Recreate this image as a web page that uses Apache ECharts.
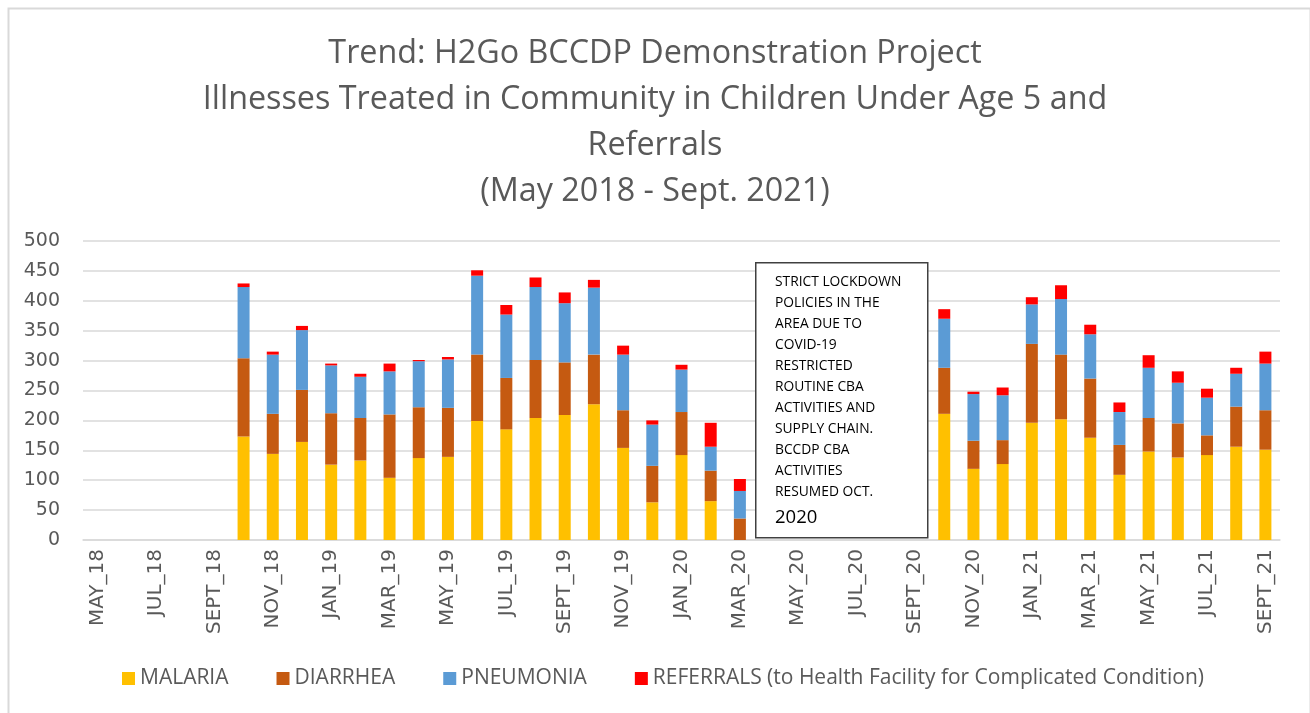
<!DOCTYPE html>
<html>
<head>
<meta charset="utf-8">
<title>H2Go BCCDP Trend</title>
<script src="https://cdn.jsdelivr.net/npm/echarts@6/dist/echarts.min.js"></script>
<style>
    html, body { margin: 0; padding: 0; background: #fff; }
    #chart { width: 1310px; height: 713px; }
</style>
</head>
<body>
<div id="chart"></div>
<script>
// 月份 (MAY_18 .. SEPT_21)
var months = [
    'MAY_18', 'JUN_18', 'JUL_18', 'AUG_18', 'SEPT_18', 'OCT_18', 'NOV_18', 'DEC_18',
    'JAN_19', 'FEB_19', 'MAR_19', 'APR_19', 'MAY_19', 'JUN_19', 'JUL_19', 'AUG_19', 'SEPT_19', 'OCT_19', 'NOV_19', 'DEC_19',
    'JAN_20', 'FEB_20', 'MAR_20', 'APR_20', 'MAY_20', 'JUN_20', 'JUL_20', 'AUG_20', 'SEPT_20', 'OCT_20', 'NOV_20', 'DEC_20',
    'JAN_21', 'FEB_21', 'MAR_21', 'APR_21', 'MAY_21', 'JUN_21', 'JUL_21', 'AUG_21', 'SEPT_21'
];
var malaria = [
    null, null, null, null, null, 173, 144, 164,
    126, 133, 104, 137, 139, 199, 185, 204, 209, 227, 154, 63,
    142, 65, 0, null, null, null, null, null, null, 211, 119, 127,
    196, 202, 171, 109, 148, 138, 142, 156, 151
];
var diarrhea = [
    null, null, null, null, null, 131, 67, 87,
    86, 71, 106, 85, 82, 111, 86, 97, 88, 83, 63, 61,
    72, 51, 36, null, null, null, null, null, null, 77, 47, 40,
    132, 108, 99, 50, 56, 57, 33, 67, 66
];
var pneumonia = [
    null, null, null, null, null, 119, 99, 100,
    80, 69, 72, 77, 81, 132, 106, 122, 99, 112, 93, 69,
    71, 40, 46, null, null, null, null, null, null, 82, 78, 75,
    66, 93, 74, 55, 84, 68, 63, 55, 78
];
var referrals = [
    null, null, null, null, null, 6, 5, 7,
    3, 5, 13, 2, 4, 9, 16, 16, 18, 13, 15, 7,
    8, 40, 20, null, null, null, null, null, null, 16, 4, 13,
    12, 23, 16, 16, 21, 19, 15, 10, 20
];
var seriesNames = ['MALARIA', 'DIARRHEA', 'PNEUMONIA', 'REFERRALS (to Health Facility for Complicated Condition)'];
var seriesColors = ['#FFC000', '#C55A11', '#5B9BD5', '#FF0000'];
var titleLines = [
    'Trend: H2Go BCCDP Demonstration Project',
    'Illnesses Treated in Community in Children Under Age 5 and',
    'Referrals',
    '(May 2018 - Sept. 2021)'
];
var noteLines = [
    'STRICT LOCKDOWN', 'POLICIES IN THE', 'AREA DUE TO', 'COVID-19', 'RESTRICTED',
    'ROUTINE CBA', 'ACTIVITIES AND', 'SUPPLY CHAIN.', 'BCCDP CBA', 'ACTIVITIES', 'RESUMED OCT.'
];
var noteLast = '2020';

var font = '"Open Sans", "Noto Sans", sans-serif';
var axisFont = '"DejaVu Sans", sans-serif';
var grey = '#595959';

let chart = echarts.init(document.getElementById('chart'));

function makeBar(i, data) {
    return {
        name: seriesNames[i],
        type: 'bar',
        stack: 'total',
        barWidth: 12,
        data: data,
        itemStyle: { color: seriesColors[i] }
    };
}

let option = {
    animation: false,
    textStyle: { fontFamily: font },
    title: {
        text: titleLines.join('\n'),
        left: 'center',
        top: 26,
        textStyle: {
            fontFamily: font,
            fontSize: 32.3,
            fontWeight: 'normal',
            color: grey,
            lineHeight: 46
        }
    },
    legend: {
        left: 117,
        top: 663,
        itemWidth: 13,
        itemHeight: 13,
        itemGap: 48,
        icon: 'rect',
        textStyle: { fontFamily: font, fontSize: 21, color: grey },
        data: seriesNames
    },
    grid: {
        left: 83,
        right: 30,
        top: 241,
        bottom: 173
    },
    xAxis: {
        type: 'category',
        data: months,
        axisLine: { lineStyle: { color: '#d9d9d9', width: 1.5 } },
        axisTick: { show: false },
        axisLabel: {
            interval: 1,
            rotate: 90,
            margin: 9,
            fontFamily: axisFont,
            fontSize: 20,
            color: grey
        }
    },
    yAxis: {
        type: 'value',
        min: 0,
        max: 500,
        interval: 50,
        axisLine: { show: false },
        axisTick: { show: false },
        splitLine: { lineStyle: { color: '#d9d9d9', width: 1.5 } },
        axisLabel: {
            margin: 23,
            fontFamily: axisFont,
            fontSize: 19,
            color: grey
        }
    },
    series: [
        makeBar(0, malaria),
        makeBar(1, diarrhea),
        makeBar(2, pneumonia),
        makeBar(3, referrals)
    ],
    graphic: [
        {
            type: 'rect',
            left: 6,
            top: 6,
            shape: { width: 1302, height: 720 },
            style: { fill: 'none', stroke: '#d9d9d9', lineWidth: 2 },
            silent: true
        },
        {
            type: 'rect',
            left: 755,
            top: 262,
            z: 10,
            shape: { width: 172, height: 275 },
            style: { fill: '#fff', stroke: '#404040', lineWidth: 1.5 }
        },
        {
            type: 'text',
            left: 775,
            top: 272,
            z: 11,
            style: {
                text: noteLines.join('\n') + '\n{big|' + noteLast + '}',
                fontFamily: font,
                fontSize: 13.8,
                lineHeight: 21,
                fill: '#000',
                rich: {
                    big: { fontFamily: font, fontSize: 18.5, lineHeight: 30, fill: '#000' }
                }
            }
        }
    ]
};
chart.setOption(option);
</script>
</body>
</html>
